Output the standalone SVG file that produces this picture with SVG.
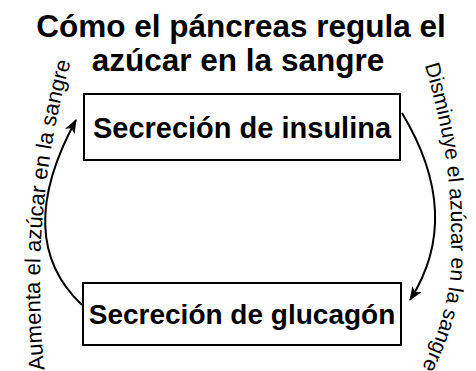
<svg xmlns="http://www.w3.org/2000/svg" width="476" height="371" viewBox="0 0 476 371">
<defs>
<style>
.title{font-family:"Liberation Sans",Arial,sans-serif;font-weight:bold;font-size:31.5px;fill:#000;text-anchor:middle}
.box{fill:#fff;stroke:#000;stroke-width:2}
.btxt{font-family:"Liberation Sans",Arial,sans-serif;font-weight:bold;fill:#000;text-anchor:middle}
.lbl{font-family:"Liberation Sans",Arial,sans-serif;fill:#000}
.conn{fill:none;stroke:#000;stroke-width:2}
</style>
<marker id="ah" viewBox="0 0 14 11" refX="13" refY="5.5" markerWidth="14" markerHeight="11" markerUnits="userSpaceOnUse" orient="auto">
<path d="M0,0 L14,5.5 L0,11 L3.5,5.5 z" fill="#000"/>
</marker>
<path id="pl" d="M44.8,372.7 A819,819 0 0 1 82,25"/>
<path id="pr" d="M424,63 Q453,158 451,240 Q455,300 424,364"/>
</defs>
<rect width="476" height="371" fill="#fff"/>
<g id="title">
<text class="title" x="241" y="37">Cómo el páncreas regula el</text>
<text class="title" x="238" y="71">azúcar en la sangre</text>
</g>
<g id="insulina">
<rect class="box" x="84" y="94" width="316" height="66"/>
<text class="btxt" x="242" y="138" font-size="29">Secreción de insulina</text>
</g>
<g id="glucagon">
<rect class="box" x="83" y="283" width="318" height="62"/>
<text class="btxt" x="242" y="324" font-size="28">Secreción de glucagón</text>
</g>
<g id="connectors">
<path class="conn" d="M82,305 Q11.5,238.5 76,120" marker-end="url(#ah)"/>
<path class="conn" d="M402,113 Q464,216 410,300" marker-end="url(#ah)"/>
<text class="lbl" font-size="22"><textPath href="#pl" startOffset="3">Aumenta el azúcar en la sangre</textPath></text>
<text class="lbl" font-size="21"><textPath href="#pr" startOffset="2">Disminuye el azúcar en la sangre</textPath></text>
</g>
</svg>
